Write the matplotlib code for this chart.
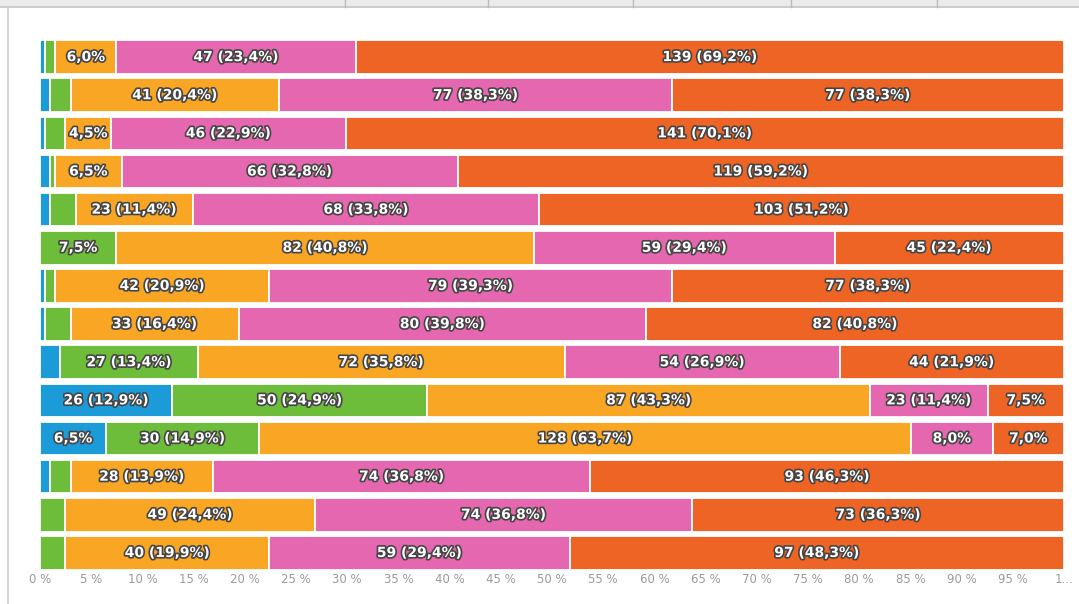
import matplotlib
matplotlib.use("Agg")
import matplotlib.pyplot as plt
import matplotlib.patheffects as pe
from matplotlib.patches import Rectangle
from matplotlib.lines import Line2D
import numpy as np

# Data: one value per row (top to bottom), 5 stacked categories
blue   = [1, 2, 1, 2, 2, 0, 1, 1, 4, 26, 13, 2, 0, 0]
green  = [2, 4, 4, 1, 5, 15, 2, 5, 27, 50, 30, 4, 5, 5]
orange = [12, 41, 9, 13, 23, 82, 42, 33, 72, 87, 128, 28, 49, 40]
pink   = [47, 77, 46, 66, 68, 59, 79, 80, 54, 23, 16, 74, 74, 59]
dark   = [139, 77, 141, 119, 103, 45, 77, 82, 44, 15, 14, 93, 73, 97]

series = [blue, green, orange, pink, dark]
colors = ["#1b9bd7", "#6dbd3b", "#f9a624", "#e467b0", "#ee6424"]

tick_vals = list(range(0, 101, 5))
tick_labels = [f"{v} %" for v in range(0, 100, 5)] + ["1..."]

fig = plt.figure(figsize=(10.79, 6.04), dpi=100)
fig.patch.set_facecolor("white")

# top header strip and left frame line
W, H = 1079, 604
fig.add_artist(Rectangle((0, 1 - 6 / H), 1, 6 / H, transform=fig.transFigure,
                         facecolor="#ebebeb", edgecolor="none"))
fig.add_artist(Line2D([0, 1], [1 - 7 / H, 1 - 7 / H], transform=fig.transFigure,
                      color="#c4c4c4", lw=1.2))
for xs in [345, 488, 633, 791, 937]:
    fig.add_artist(Line2D([xs / W, xs / W], [1 - 7 / H, 1], transform=fig.transFigure,
                          color="#b8b8b8", lw=1))
fig.add_artist(Line2D([8 / W, 8 / W], [0, 1 - 7 / H], transform=fig.transFigure,
                      color="#d0d0d0", lw=1.2))

ax = fig.add_axes([40 / W, 32 / H, 1024 / W, 534 / H])
n = len(blue)
y = np.arange(n)
totals = np.sum(series, axis=0)

left = np.zeros(n)
for vals, col in zip(series, colors):
    vals = np.array(vals, dtype=float)
    pct = vals / totals * 100
    ax.barh(y, pct, left=left, height=0.88, color=col, edgecolor="white", linewidth=1.3)
    for i in range(n):
        p = pct[i]
        if p >= 10:
            txt = f"{int(vals[i])} ({p:.1f}%)".replace(".", ",")
        elif p >= 4:
            txt = f"{p:.1f}%".replace(".", ",")
        else:
            txt = None
        if txt:
            ax.text(left[i] + p / 2, y[i], txt, ha="center", va="center",
                    fontsize=10, fontweight="bold", color="white",
                    path_effects=[pe.withStroke(linewidth=2.4, foreground="#454545")])
    left += pct

ax.set_xlim(0, 100)
ax.set_ylim(n - 0.5, -0.5)
ax.set_xticks(tick_vals)
ax.set_xticklabels(tick_labels, fontsize=8.5, color="#9a9a9a")
ax.set_yticks([])
ax.tick_params(axis="x", length=0, pad=1)
for s in ax.spines.values():
    s.set_visible(False)

fig.savefig("out.png", dpi=100, facecolor="white")
